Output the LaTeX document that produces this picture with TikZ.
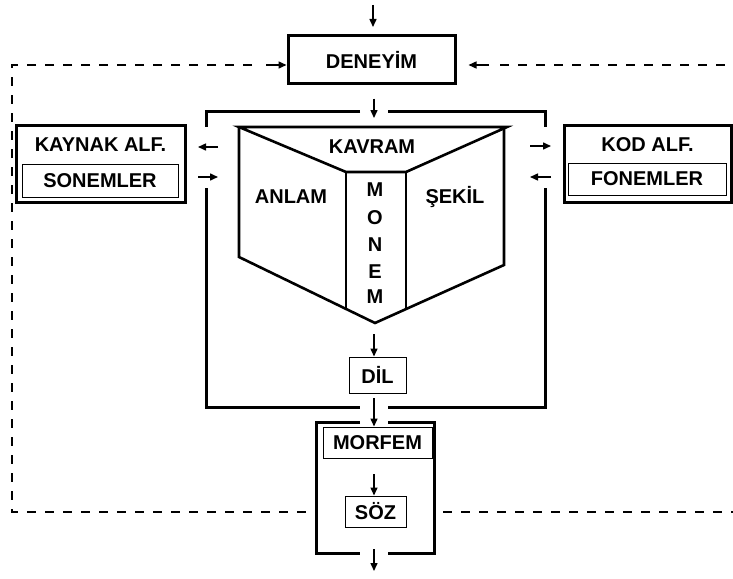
\documentclass[tikz,border=0pt]{standalone}
\usepackage{fontspec}
\setmainfont{Liberation Sans}
\usetikzlibrary{arrows.meta}
\begin{document}
\begin{tikzpicture}[x=1pt,y=-1pt,
  thickbox/.style={draw, line width=3pt, inner sep=0pt},
  thinbox/.style={draw, line width=1pt, inner sep=0pt},
  lbl/.style={font=\fontsize{20}{22}\selectfont\bfseries, inner sep=0pt},
  arr/.style={-{Triangle[length=8pt,width=7pt]}, line width=1.5pt},
  dashline/.style={line width=2.3pt, dash pattern=on 9pt off 9pt},
  wall/.style={line width=3pt, line cap=butt},
  pageline/.style={line width=2.6pt, line join=miter}]
\useasboundingbox (0,0) rectangle (733,578);

% DENEYIM
\node[thickbox, lbl, minimum width=167pt, minimum height=47pt] (den) at (371.5,59.5) {DENEY\.IM};
\coordinate (topin) at (373,5);
\coordinate (topend) at (373,27);
\draw[arr] (topin) -- (topend);

% dashed feedback lines
\coordinate (dl1) at (252,65);
\coordinate (dl2) at (12,65);
\coordinate (dl3) at (12,512);
\coordinate (dl4) at (312,512);
\coordinate (dr1) at (500,65);
\coordinate (dr2) at (733,65);
\coordinate (dr3) at (443,512);
\coordinate (dr4) at (733,512);
\draw[dashline] (dl1) -- (dl2) -- (dl3) -- (dl4);
\draw[dashline] (dr1) -- (dr2);
\draw[dashline] (dr3) -- (dr4);
\coordinate (la) at (266,65);
\coordinate (ra) at (489,65);
\draw[arr] (la) -- (den.west |- la);
\draw[arr] (ra) -- ([xshift=12pt]den.east |- ra);

% big box with gaps
\coordinate (bbTL) at (206,111);
\coordinate (bbTR) at (545,111);
\coordinate (bbBL) at (206,407);
\coordinate (bbBR) at (545,407);
\draw[wall] (360,111) -- (bbTL) -- (206,127);
\draw[wall] (206,188) -- (bbBL) -- (360,407);
\draw[wall] (388,111) -- (bbTR) -- (545,127);
\draw[wall] (545,188) -- (bbBR) -- (388,407);
\coordinate (bbin) at (374,118);
\draw[arr] ([yshift=-14pt]den.south -| bbin) -- (bbin);

% KAYNAK ALF.
\node[thickbox, minimum width=169pt, minimum height=77pt] (kay) at (100.5,163.5) {};
\node[lbl] (kayt) at (100.5,145) {KAYNAK ALF.};
\node[thinbox, lbl, minimum width=156pt, minimum height=33pt] (son) at (100,180.5) {SONEMLER};
\coordinate (kl1) at (218,147);
\coordinate (kl2) at (198,147);
\coordinate (kl3) at (198,177);
\coordinate (kl4) at (218,177);
\draw[arr] (kl1) -- (kl2);
\draw[arr] (kl3) -- (kl4);

% KOD ALF.
\node[thickbox, minimum width=167pt, minimum height=77pt] (kod) at (647.5,163.5) {};
\node[lbl] (kodt) at (647.5,145) {KOD ALF.};
\node[thinbox, lbl, minimum width=158pt, minimum height=32pt] (fon) at (647,179) {FONEMLER};
\coordinate (kr1) at (530,146);
\coordinate (kr2) at (551,146);
\coordinate (kr3) at (551,177);
\coordinate (kr4) at (530,177);
\draw[arr] (kr1) -- (kr2);
\draw[arr] (kr3) -- (kr4);

% book
\coordinate (tl) at (239,127);
\coordinate (tr) at (507,127);
\coordinate (sl) at (346,172);
\coordinate (sr) at (406,172);
\coordinate (bl) at (239,257);
\coordinate (br) at (504,265);
\coordinate (bp) at (375,323);
\coordinate (slb) at (346,308.6);
\coordinate (srb) at (406,308.7);
\draw[pageline] (tl) -- (tr) -- (sr) -- (sl) -- cycle;
\draw[pageline] (tl) -- (bl) -- (bp) -- (br) -- (504,128);
\draw[pageline] (sl) -- (slb);
\draw[pageline] (sr) -- (srb);
\node[lbl] (kav) at (372,147) {KAVRAM};
\node[lbl] (anl) at (291,197) {ANLAM};
\node[lbl] (sek) at (455,197) {ŞEK\.IL};
\node[lbl] (m1) at (375,190) {M};
\node[lbl] (m2) at (375,218) {O};
\node[lbl] (m3) at (375,245) {N};
\node[lbl] (m4) at (375,272) {E};
\node[lbl] (m5) at (375,297) {M};

% DIL
\node[thinbox, lbl, minimum width=57pt, minimum height=36pt] (dil) at (377.5,375) {D\.IL};
\coordinate (dilin) at (374,334);
\draw[arr] (dilin) -- (dil.north -| dilin);

% MORFEM / SOZ outer box
\draw[wall] (360,422) -- (316,422) -- (316,553) -- (360,553);
\draw[wall] (388,422) -- (434,422) -- (434,553) -- (388,553);
\node[thinbox, lbl, minimum width=109pt, minimum height=31pt] (mor) at (377.5,442.5) {MORFEM};
\coordinate (morin) at (374,398);
\draw[arr] (morin) -- (mor.north -| morin);
\node[thinbox, lbl, minimum width=61pt, minimum height=31pt] (soz) at (375.5,511.5) {SÖZ};
\coordinate (sozin) at (374,474);
\draw[arr] (sozin) -- (soz.north -| sozin);
\coordinate (out1) at (374,549);
\coordinate (out2) at (374,571);
\draw[arr] (out1) -- (out2);
\end{tikzpicture}
\end{document}
